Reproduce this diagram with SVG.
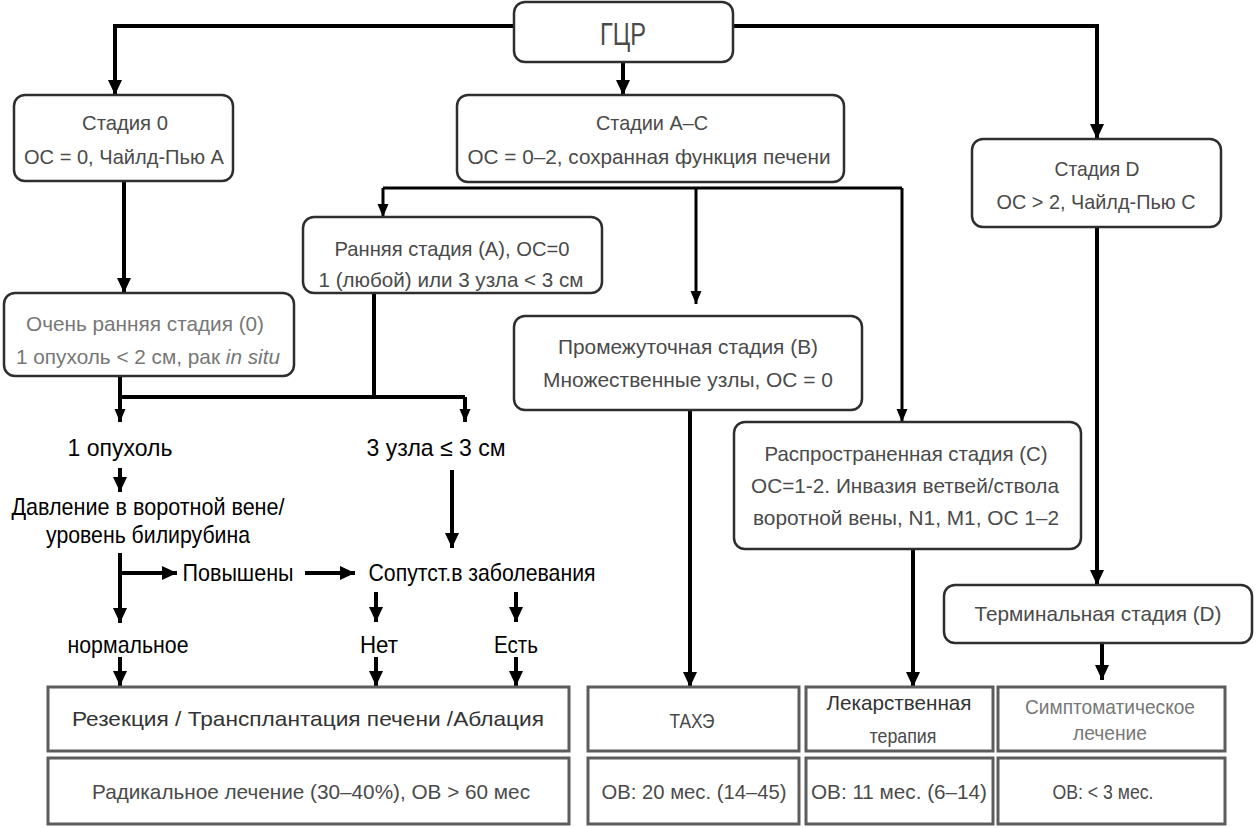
<svg xmlns="http://www.w3.org/2000/svg" width="1256" height="828" viewBox="0 0 1256 828">
<defs>
<marker id="ah" markerUnits="userSpaceOnUse" markerWidth="16" markerHeight="16" viewBox="0 0 16 16" refX="15" refY="8" orient="auto">
<path d="M0,1 L15,8 L0,15 Z" fill="#000"/>
</marker>
<marker id="ahs" markerUnits="userSpaceOnUse" markerWidth="14" markerHeight="14" viewBox="0 0 14 14" refX="13" refY="7" orient="auto">
<path d="M0,1.5 L13,7 L0,12.5 Z" fill="#000"/>
</marker>
<style>
.rb{fill:#fff;stroke:#2e2e2e;stroke-width:2.5}
.sb{fill:#fff;stroke:#5c5c5c;stroke-width:3}
.t{font-family:"Liberation Sans Narrow","Liberation Sans",Arial,sans-serif;font-size:21px;fill:#4a4a4a;text-anchor:middle}
.lt{fill:#777}
.dk{fill:#333}
.f{font-family:"Liberation Sans Narrow","Liberation Sans",Arial,sans-serif;font-size:24px;fill:#000;text-anchor:middle}
.c{fill:none;stroke:#000;stroke-width:4}
.c3{fill:none;stroke:#000;stroke-width:3}
</style>
</defs>
<rect width="1256" height="828" fill="#fff"/>

<g id="connectors">
<path class="c" d="M515,26 H115 V95" marker-end="url(#ah)"/>
<path class="c" d="M623,62 V95" marker-end="url(#ah)"/>
<path class="c" d="M733,26 H1097 V139" marker-end="url(#ah)"/>
<path class="c" d="M124,181 V293" marker-end="url(#ah)"/>
<path class="c3" d="M383,188 H902"/>
<path class="c3" d="M383,188 V217" marker-end="url(#ahs)"/>
<path class="c3" d="M696,188 V304" marker-end="url(#ahs)"/>
<path class="c3" d="M902,188 V422" marker-end="url(#ahs)"/>
<path class="c" d="M120,376 V397 H465"/>
<path class="c" d="M374,293 V397"/>
<path class="c" d="M120,397 V422" marker-end="url(#ahs)"/>
<path class="c" d="M465,397 V422" marker-end="url(#ahs)"/>
<path class="c" d="M120,468 V492" marker-end="url(#ah)"/>
<path class="c" d="M452,470 V548" marker-end="url(#ah)"/>
<path class="c" d="M120,553 V623" marker-end="url(#ah)"/>
<path class="c" d="M120,573 H177" marker-end="url(#ah)"/>
<path class="c" d="M305,573 H355" marker-end="url(#ah)"/>
<path class="c" d="M376,592 V622" marker-end="url(#ah)"/>
<path class="c" d="M516,592 V622" marker-end="url(#ah)"/>
<path class="c" d="M120,657 V686" marker-end="url(#ah)"/>
<path class="c" d="M376,657 V686" marker-end="url(#ah)"/>
<path class="c" d="M516,657 V686" marker-end="url(#ah)"/>
<path class="c" d="M690,410 V687" marker-end="url(#ah)"/>
<path class="c" d="M913,549 V687" marker-end="url(#ah)"/>
<path class="c" d="M1097,227 V585" marker-end="url(#ah)"/>
<path class="c" d="M1102,643 V680" marker-end="url(#ah)"/>
</g>

<g id="gcr">
<rect class="rb" x="514" y="2" width="219" height="60" rx="11"/>
<text class="t" x="623" y="45" style="font-size:31px" textLength="46" lengthAdjust="spacingAndGlyphs">ГЦР</text>
</g>

<g id="stage0">
<rect class="rb" x="14" y="95" width="219" height="86" rx="11"/>
<text class="t" x="125" y="130" textLength="86" lengthAdjust="spacingAndGlyphs">Стадия 0</text>
<text class="t" x="124" y="164" textLength="200" lengthAdjust="spacingAndGlyphs">ОС = 0, Чайлд-Пью А</text>
</g>

<g id="stageAC">
<rect class="rb" x="457" y="95" width="387" height="87" rx="11"/>
<text class="t" x="652" y="130" textLength="112" lengthAdjust="spacingAndGlyphs">Стадии А–С</text>
<text class="t" x="649" y="164" textLength="363" lengthAdjust="spacingAndGlyphs">ОС = 0–2, сохранная функция печени</text>
</g>

<g id="stageD">
<rect class="rb" x="972" y="139" width="249" height="88" rx="11"/>
<text class="t" x="1097" y="176" textLength="85" lengthAdjust="spacingAndGlyphs">Стадия D</text>
<text class="t" x="1096" y="209" textLength="199" lengthAdjust="spacingAndGlyphs">ОС &gt; 2, Чайлд-Пью С</text>
</g>

<g id="early">
<rect class="rb" x="303" y="217" width="299" height="76" rx="11"/>
<text class="t" x="452" y="256" textLength="235" lengthAdjust="spacingAndGlyphs">Ранняя стадия (А), ОС=0</text>
<text class="t" x="451" y="287" textLength="265" lengthAdjust="spacingAndGlyphs">1 (любой) или 3 узла &lt; 3 см</text>
</g>

<g id="veryearly">
<rect class="rb" x="4" y="293" width="290" height="83" rx="11"/>
<text class="t lt" x="145" y="331" textLength="238" lengthAdjust="spacingAndGlyphs">Очень ранняя стадия (0)</text>
<text class="t lt" x="148" y="364" textLength="264" lengthAdjust="spacingAndGlyphs">1 опухоль &lt; 2 см, рак <tspan font-style="italic">in situ</tspan></text>
</g>

<g id="intermediate">
<rect class="rb" x="514" y="316" width="348" height="94" rx="11"/>
<text class="t" x="688" y="354" textLength="260" lengthAdjust="spacingAndGlyphs">Промежуточная стадия (B)</text>
<text class="t" x="688" y="387" textLength="290" lengthAdjust="spacingAndGlyphs">Множественные узлы, ОС = 0</text>
</g>

<g id="advanced">
<rect class="rb" x="734" y="422" width="347" height="127" rx="11"/>
<text class="t" x="906" y="461" textLength="283" lengthAdjust="spacingAndGlyphs">Распространенная стадия (С)</text>
<text class="t" x="905" y="493" textLength="308" lengthAdjust="spacingAndGlyphs">ОС=1-2. Инвазия ветвей/ствола</text>
<text class="t" x="906" y="525" textLength="306" lengthAdjust="spacingAndGlyphs">воротной вены, N1, M1, ОС 1–2</text>
</g>

<g id="terminal">
<rect class="rb" x="944" y="585" width="308" height="58" rx="11"/>
<text class="t" x="1098" y="621" textLength="247" lengthAdjust="spacingAndGlyphs">Терминальная  стадия (D)</text>
</g>

<g id="labels">
<text class="f" x="120" y="456" textLength="105" lengthAdjust="spacingAndGlyphs">1 опухоль</text>
<text class="f" x="436" y="456" textLength="139" lengthAdjust="spacingAndGlyphs">3 узла ≤ 3 см</text>
<text class="f" x="148" y="515" textLength="273" lengthAdjust="spacingAndGlyphs">Давление в воротной вене/</text>
<text class="f" x="148" y="543" textLength="204" lengthAdjust="spacingAndGlyphs">уровень билирубина</text>
<text class="f" x="238" y="581" textLength="111" lengthAdjust="spacingAndGlyphs">Повышены</text>
<text class="f" x="482" y="581" textLength="227" lengthAdjust="spacingAndGlyphs">Сопутст.в заболевания</text>
<text class="f" x="128" y="653" textLength="121" lengthAdjust="spacingAndGlyphs">нормальное</text>
<text class="f" x="379" y="653" textLength="38" lengthAdjust="spacingAndGlyphs">Нет</text>
<text class="f" x="516" y="653" textLength="44" lengthAdjust="spacingAndGlyphs">Есть</text>
</g>

<g id="resection">
<rect class="sb" x="48" y="687" width="521" height="64"/>
<text class="t dk" x="308" y="726" textLength="472" lengthAdjust="spacingAndGlyphs">Резекция / Трансплантация печени /Аблация</text>
</g>
<g id="tace">
<rect class="sb" x="588" y="687" width="211" height="64"/>
<text class="t" x="692" y="728" textLength="45" lengthAdjust="spacingAndGlyphs">ТАХЭ</text>
</g>
<g id="drug">
<rect class="sb" x="806" y="687" width="187" height="64"/>
<text class="t dk" x="899" y="710" textLength="145" lengthAdjust="spacingAndGlyphs">Лекарственная</text>
<text class="t" x="903" y="743" textLength="67" lengthAdjust="spacingAndGlyphs">терапия</text>
</g>
<g id="symptomatic">
<rect class="sb" x="998" y="687" width="227" height="64"/>
<text class="t lt" x="1110" y="714" textLength="170" lengthAdjust="spacingAndGlyphs">Симптоматическое</text>
<text class="t lt" x="1110" y="740" textLength="74" lengthAdjust="spacingAndGlyphs">лечение</text>
</g>

<g id="os-radical">
<rect class="sb" x="48" y="758" width="521" height="66"/>
<text class="t" x="311" y="799" textLength="438" lengthAdjust="spacingAndGlyphs">Радикальное лечение (30–40%), ОВ &gt; 60 мес</text>
</g>
<g id="os-tace">
<rect class="sb" x="588" y="758" width="211" height="66"/>
<text class="t" x="694" y="799" textLength="185" lengthAdjust="spacingAndGlyphs">ОВ: 20 мес. (14–45)</text>
</g>
<g id="os-drug">
<rect class="sb" x="806" y="758" width="187" height="66"/>
<text class="t" x="899" y="799" textLength="176" lengthAdjust="spacingAndGlyphs">ОВ: 11 мес. (6–14)</text>
</g>
<g id="os-symptomatic">
<rect class="sb" x="998" y="758" width="227" height="66"/>
<text class="t" x="1103" y="799" textLength="101" lengthAdjust="spacingAndGlyphs">ОВ: &lt; 3 мес.</text>
</g>
</svg>
